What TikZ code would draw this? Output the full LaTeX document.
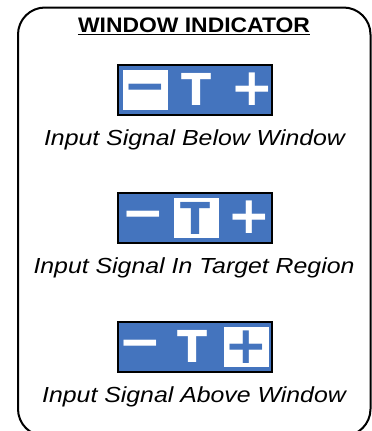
\documentclass[tikz,border=0pt]{standalone}
\usepackage{fontspec}
\setmainfont{Liberation Sans}
\newfontfamily\iconfont{DejaVu Sans}
\usetikzlibrary{positioning}
\definecolor{indblue}{RGB}{68,116,190}

\begin{document}
\begin{tikzpicture}[x=1pt,y=-1pt,
	panel/.style={draw=black,line width=2pt,fill=indblue,minimum width=154pt,minimum height=50pt,inner sep=0pt},
	sym/.style={text=white,font=\iconfont\bfseries\fontsize{44}{44}\selectfont,inner sep=0pt},
	pm/.style={sym,font=\iconfont\bfseries\fontsize{52}{52}\selectfont},
	bar/.style={pm,text height=26pt,text depth=0pt},
	lit/.style={fill=white,text=indblue,minimum width=45pt,minimum height=40pt},
	caption/.style={font=\itshape\fontsize{21.8}{24}\selectfont,xscale=1.14,anchor=base,inner sep=0pt}]
			\useasboundingbox (0,0) rectangle (372,431);
			\draw[line width=2pt,rounded corners=27pt] (18,7.5) rectangle (370.5,436);
			\node[font=\bfseries\fontsize{21}{24}\selectfont,xscale=1.09,anchor=base,inner sep=0pt] (title) at (194,32) {WINDOW INDICATOR};
			\draw[line width=1.6pt] ([yshift=-2.5pt]title.base west) -- ([yshift=-2.5pt]title.base east);
			% below window
			\node[panel] (ind1) at (195,90) {};
			\node[bar,lit] (lo1) at (145.5,90) {−};
			\node[sym] (mid1) at (196.5,89) {T};
			\node[pm] (hi1) at (252,89) {+};
			\node[caption] (cap1) at (194.5,145.5) {Input Signal Below Window};
			% in target
			\node[panel] (ind2) at (195,218) {};
			\node[bar] (lo2) at (143,217) {−};
			\node[sym,lit] (mid2) at (196,218) {T};
			\node[pm] (hi2) at (249,217) {+};
			\node[caption] (cap2) at (194,273) {Input Signal In Target Region};
			% above window
			\node[panel] (ind3) at (195,347) {};
			\node[bar] (lo3) at (140.5,346) {−};
			\node[sym] (mid3) at (193,346) {T};
			\node[pm,lit] (hi3) at (246.5,347) {+};
			\node[caption] (cap3) at (194,402) {Input Signal Above Window};
		\end{tikzpicture}
\end{document}
